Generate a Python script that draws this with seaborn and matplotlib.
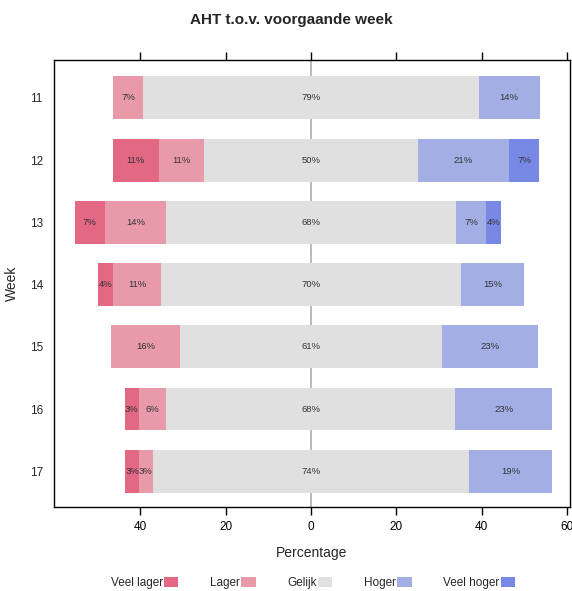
import numpy as np
import pandas as pd
import matplotlib
matplotlib.use("Agg")
import matplotlib.pyplot as plt
from matplotlib.patches import Patch
import seaborn as sns

# data (percentages per week)
weeks = ["11", "12", "13", "14", "15", "16", "17"]
veel_lager = [0.0, 10.7, 7.1, 3.7, 0.0, 3.2, 3.2]
lager = [7.1, 10.7, 14.3, 11.1, 16.1, 6.5, 3.2]
gelijk = [78.6, 50.0, 67.9, 70.4, 61.3, 67.7, 74.2]
hoger = [14.3, 21.4, 7.1, 14.8, 22.6, 22.6, 19.4]
veel_hoger = [0.0, 7.1, 3.6, 0.0, 0.0, 0.0, 0.0]

categories = ["Veel lager", "Lager", "Gelijk", "Hoger", "Veel hoger"]
colors = ["#E26884", "#E89AAA", "#E0E0E0", "#A2AEE4", "#7789E4"]

sns.set_style("white")
plt.rcParams["font.family"] = ["Liberation Sans", "DejaVu Sans"]

df = pd.DataFrame({"week": weeks, "vl": veel_lager, "l": lager, "g": gelijk,
                   "h": hoger, "vh": veel_hoger})
half = df["g"] / 2
# outer edges of each segment, drawn from 0 outward (inner ones on top)
df["vl_end"] = -(half + df["l"] + df["vl"])
df["l_end"] = -(half + df["l"])
df["gl_end"] = -half
df["vh_end"] = half + df["h"] + df["vh"]
df["h_end"] = half + df["h"]
df["gr_end"] = half

fig = plt.figure(figsize=(5.72, 5.91), dpi=100)
ax = fig.add_axes([54 / 572, 1 - 506.7 / 591, 516 / 572, (506.7 - 60) / 591])
ax.axvline(0, color="#b4b4b4", lw=1.3, zorder=0)

layers = [("vl_end", colors[0]), ("l_end", colors[1]), ("gl_end", colors[2]),
          ("vh_end", colors[4]), ("h_end", colors[3]), ("gr_end", colors[2])]
for col, c in layers:
    sns.barplot(data=df, x=col, y="week", order=weeks, orient="h", color=c,
                width=0.69, errorbar=None, saturation=1, linewidth=0, ax=ax, zorder=2)

# labels in the middle of each segment
for i in range(len(weeks)):
    segs = [
        (df["l_end"][i] - df["vl"][i] / 2, df["vl"][i]),
        (-half[i] - df["l"][i] / 2, df["l"][i]),
        (0, df["g"][i]),
        (half[i] + df["h"][i] / 2, df["h"][i]),
        (df["h_end"][i] + df["vh"][i] / 2, df["vh"][i]),
    ]
    for xc, v in segs:
        if v > 0:
            ax.text(xc, i, f"{v:.0f}%", ha="center", va="center", fontsize=6.8,
                    color="#333333", zorder=3)

ax.set_xlim(-60.2, 60.7)
ax.set_ylim(6.57, -0.61)
ax.set_xticks([-40, -20, 0, 20, 40, 60])
ax.set_xticklabels(["40", "20", "0", "20", "40", "60"])
ax.tick_params(axis="x", top=True, bottom=True, direction="out", length=6,
               width=1, labelsize=8.5, colors="black", pad=4)
ax.tick_params(axis="y", length=0, labelsize=8.5, pad=8)
for s in ax.spines.values():
    s.set_visible(True)
    s.set_color("black")
    s.set_linewidth(1)
ax.set_xlabel("Percentage", fontsize=10, labelpad=10)
ax.set_ylabel("Week", fontsize=10, labelpad=8)

fig.suptitle("AHT t.o.v. voorgaande week", fontsize=11, fontweight="bold",
             x=291 / 572, y=1 - 20 / 591, va="center")

handles = [Patch(facecolor=c, edgecolor="none") for c in colors]
fig.legend(handles, categories, loc="center", bbox_to_anchor=(313 / 572, 1 - 583 / 591),
           ncol=5, frameon=False, markerfirst=False, fontsize=8.5,
           handlelength=1.2, handleheight=0.9, handletextpad=0.1, columnspacing=2.7)

fig.savefig("out.png", dpi=100)
